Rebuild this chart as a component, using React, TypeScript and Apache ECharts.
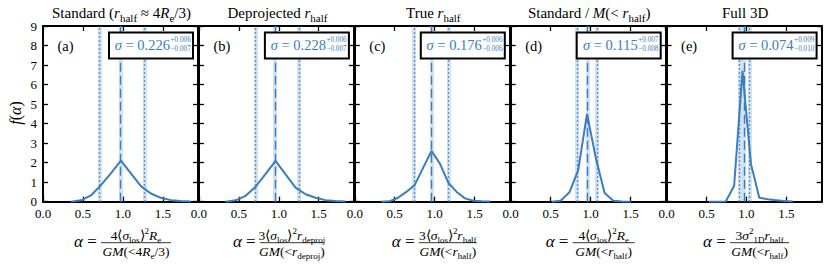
import React, { useEffect, useRef } from "react";
import * as echarts from "echarts";

// ---- data ----
const panelTags = ["(a)", "(b)", "(c)", "(d)", "(e)"];
const sigmaMain = ["0.226", "0.228", "0.176", "0.115", "0.074"];
const sigmaPlus = ["+0.006", "+0.006", "+0.006", "+0.007", "+0.009"];
const sigmaMinus = ["\u22120.007", "\u22120.007", "\u22120.006", "\u22120.008", "\u22120.010"];

const alphaA = [0.35, 0.475, 0.6, 0.725, 0.85, 0.975, 1.1, 1.225, 1.35, 1.475, 1.6, 1.725, 1.85];
const fA = [0.0, 0.07, 0.32, 0.85, 1.45, 2.1, 1.45, 0.8, 0.42, 0.2, 0.08, 0.03, 0.01];
const alphaB = [0.335, 0.46, 0.585, 0.71, 0.835, 0.96, 1.085, 1.21, 1.335, 1.46, 1.585, 1.71, 1.835];
const fB = [0.0, 0.07, 0.3, 0.77, 1.42, 2.09, 1.4, 0.72, 0.38, 0.2, 0.08, 0.03, 0.01];
const alphaC = [0.33, 0.435, 0.54, 0.645, 0.75, 0.855, 0.96, 1.065, 1.17, 1.275, 1.38, 1.485, 1.59, 1.695];
const fC = [0.0, 0.02, 0.2, 0.5, 0.86, 1.73, 2.6, 1.95, 0.98, 0.5, 0.17, 0.05, 0.02, 0.01];
const alphaD = [0.515, 0.625, 0.735, 0.845, 0.955, 1.065, 1.175, 1.285, 1.395, 1.505];
const fD = [0.0, 0.05, 0.48, 1.62, 4.5, 2.25, 0.45, 0.05, 0.01, 0.0];
const alphaE = [0.53, 0.635, 0.74, 0.845, 0.95, 1.055, 1.16, 1.265, 1.37, 1.475, 1.58];
const fE = [0.0, 0.0, 0.01, 0.8, 6.7, 1.95, 0.2, 0.13, 0.08, 0.03, 0.01];

const alphaSets = [alphaA, alphaB, alphaC, alphaD, alphaE];
const fSets = [fA, fB, fC, fD, fE];

// 16th / 50th / 84th percentiles
const pLow = [0.71, 0.71, 0.745, 0.835, 0.905];
const pMed = [0.97, 0.955, 0.96, 0.958, 0.97];
const pHigh = [1.27, 1.25, 1.165, 1.083, 1.04];

const xTicks = [0, 0.5, 1.0, 1.5];
const XMAX = 1.94;

// ---- style ----
const FONT = "Liberation Serif";
const BLUE = "#3b7dbf";
const BAND = "rgba(59,125,191,0.22)";

function rich(s: number, color = "#000") {
  const lh = Math.round(s * 1.35);
  const base = { fontFamily: FONT, fill: color, lineHeight: lh };
  return {
    n: { ...base, fontSize: s },
    i: { ...base, fontSize: s, fontStyle: "italic" },
    sub: { ...base, fontSize: Math.round(s * 0.7), verticalAlign: "bottom" },
    sup: { ...base, fontSize: Math.round(s * 0.7), verticalAlign: "top" },
  };
}

const titles = [
  "{n|Standard (}{i|r}{sub|half}{n| \u2248 4}{i|R}{sub|e}{n|/3)}",
  "{n|Deprojected }{i|r}{sub|half}",
  "{n|True }{i|r}{sub|half}",
  "{n|Standard / }{i|M}{n|(< }{i|r}{sub|half}{n|)}",
  "{n|Full 3D}",
];
const numerators = [
  "{n|4\u27E8}{i|\u03C3}{sub|los}{n|\u27E9}{sup|2}{i|R}{sub|e}",
  "{n|3\u27E8}{i|\u03C3}{sub|los}{n|\u27E9}{sup|2}{i|r}{sub|deproj}",
  "{n|3\u27E8}{i|\u03C3}{sub|los}{n|\u27E9}{sup|2}{i|r}{sub|half}",
  "{n|4\u27E8}{i|\u03C3}{sub|los}{n|\u27E9}{sup|2}{i|R}{sub|e}",
  "{n|3}{i|\u03C3}{sup|2}{sub|1D}{i|r}{sub|half}",
];
const denominators = [
  "{i|GM}{n|(<4}{i|R}{sub|e}{n|/3)}",
  "{i|GM}{n|(<}{i|r}{sub|deproj}{n|)}",
  "{i|GM}{n|(<}{i|r}{sub|half}{n|)}",
  "{i|GM}{n|(<}{i|r}{sub|half}{n|)}",
  "{i|GM}{n|(<}{i|r}{sub|half}{n|)}",
];
const fracWidths = [70, 64, 58, 62, 59];

export default function App() {
  const ref = useRef<HTMLDivElement>(null);
  useEffect(() => {
    if (!ref.current) return;
    const chart = echarts.init(ref.current, null, { renderer: "svg" });
    const N = 5;
    const PL = 43, PW = 155, STEP = 155.9, PT = 26, PH = 175.7;
    const grids: any[] = [];
    const xAxes: any[] = [];
    const yAxes: any[] = [];
    const series: any[] = [];
    const graphics: any[] = [];
    const lineS = { color: "#000", width: 2 };
    const tickS = { show: true, inside: true, length: 5, lineStyle: { color: "#000", width: 1.3 } };
    for (let i = 0; i < N; i++) {
      const left = PL + i * STEP;
      grids.push({ left, top: PT, width: PW, height: PH, containLabel: false });
      const fmt = (v: number) =>
        xTicks.some((t) => Math.abs(t - v) < 1e-6) ? v.toFixed(1) : "";
      xAxes.push({
        gridIndex: i, type: "value", min: 0, max: XMAX, interval: 0.5, position: "bottom",
        axisLine: { show: true, onZero: false, lineStyle: lineS },
        axisTick: tickS,
        axisLabel: { show: true, formatter: fmt, color: "#000", fontFamily: FONT, fontSize: 13, margin: 5, showMaxLabel: false },
        splitLine: { show: false },
      });
      xAxes.push({
        gridIndex: i, type: "value", min: 0, max: XMAX, interval: 0.5, position: "top",
        axisLine: { show: true, onZero: false, lineStyle: lineS },
        axisTick: tickS,
        axisLabel: { show: false },
        splitLine: { show: false },
      });
      yAxes.push({
        gridIndex: i, type: "value", min: 0, max: 9, interval: 1, position: "left",
        axisLine: { show: true, onZero: false, lineStyle: lineS },
        axisTick: tickS,
        axisLabel: { show: i === 0, color: "#000", fontFamily: FONT, fontSize: 13, margin: 6 },
        splitLine: { show: false },
      });
      yAxes.push({
        gridIndex: i, type: "value", min: 0, max: 9, interval: 1, position: "right",
        axisLine: { show: true, onZero: false, lineStyle: lineS },
        axisTick: tickS,
        axisLabel: { show: false },
        splitLine: { show: false },
      });
      const xs = alphaSets[i];
      const ys = fSets[i];
      const vals = [pLow[i], pMed[i], pHigh[i]];
      const bandItems = vals.map((v) => ({ xAxis: v, lineStyle: { color: BAND, width: 4, type: "solid" } }));
      const lineItems = vals.map((v, k) => ({
        xAxis: v,
        lineStyle: { color: BLUE, width: 1.4, type: k === 1 ? [9, 4] : [1.5, 2.5] },
      }));
      series.push({
        type: "line",
        xAxisIndex: 2 * i,
        yAxisIndex: 2 * i,
        data: xs.map((x, k) => [x, ys[k]]),
        symbol: "none",
        showSymbol: false,
        lineStyle: { color: BLUE, width: 2 },
        z: 3,
        markLine: {
          symbol: ["none", "none"],
          silent: true,
          animation: false,
          label: { show: false },
          emphasis: { disabled: true },
          data: [...bandItems, ...lineItems],
        },
      });

      // title
      graphics.push({
        type: "text", x: left + PW / 2 + 1, y: 13, z: 100,
        style: { text: titles[i], rich: rich(15), align: "center", verticalAlign: "middle" },
      });
      // panel tag
      graphics.push({
        type: "text", x: left + 14.5, y: 45.5, z: 100,
        style: { text: panelTags[i], fontFamily: FONT, fontSize: 14.5, fill: "#000", align: "left", verticalAlign: "middle" },
      });
      // sigma box
      graphics.push({
        type: "rect", z: 100,
        shape: { x: left + 66, y: 32.5, width: 84, height: 26 },
        style: { fill: "#fff", stroke: "#000", lineWidth: 2 },
      });
      graphics.push({
        type: "text", x: left + 127, y: 44.5, z: 101,
        style: {
          text: "{i|\u03C3}{n| = " + sigmaMain[i] + "}",
          rich: rich(14.5, BLUE), align: "right", verticalAlign: "middle",
        },
      });
      graphics.push({
        type: "text", x: left + 127.5, y: 39.5, z: 101,
        style: { text: sigmaPlus[i], fontFamily: FONT, fontSize: 7.2, fill: BLUE, align: "left", verticalAlign: "middle" },
      });
      graphics.push({
        type: "text", x: left + 127.5, y: 48.5, z: 101,
        style: { text: sigmaMinus[i], fontFamily: FONT, fontSize: 7.2, fill: BLUE, align: "left", verticalAlign: "middle" },
      });
      // x-axis formula
      const W = fracWidths[i];
      const alphaW = 24;
      const gap = 3;
      const center = left + PW / 2 + 2;
      const start = center - (alphaW + gap + W) / 2;
      const fc = start + alphaW + gap + W / 2;
      graphics.push({
        type: "text", x: start, y: 241.5, z: 100,
        style: { text: "{i|\u03B1}{n| =}", rich: rich(17), align: "left", verticalAlign: "middle" },
      });
      graphics.push({
        type: "text", x: fc, y: 235, z: 100,
        style: { text: numerators[i], rich: rich(13.5), align: "center", verticalAlign: "middle" },
      });
      graphics.push({
        type: "line", z: 100,
        shape: { x1: fc - W / 2, y1: 242.7, x2: fc + W / 2, y2: 242.7 },
        style: { stroke: "#000", lineWidth: 0.8 },
      });
      graphics.push({
        type: "text", x: fc, y: 251, z: 100,
        style: { text: denominators[i], rich: rich(13.5), align: "center", verticalAlign: "middle" },
      });
    }
    // y-axis name
    graphics.push({
      type: "text", x: 15, y: 113, rotation: Math.PI / 2, z: 100,
      style: { text: "{i|f}{n|(}{i|\u03B1}{n|)}", rich: rich(16), align: "center", verticalAlign: "middle" },
    });

    chart.setOption({
      animation: false,
      backgroundColor: "#fff",
      grid: grids,
      xAxis: xAxes,
      yAxis: yAxes,
      series,
      graphic: graphics,
    });
    return () => chart.dispose();
  }, []);
  return <div ref={ref} style={{ width: 830, height: 264, position: "absolute", left: 0, top: 0 }} />;
}
